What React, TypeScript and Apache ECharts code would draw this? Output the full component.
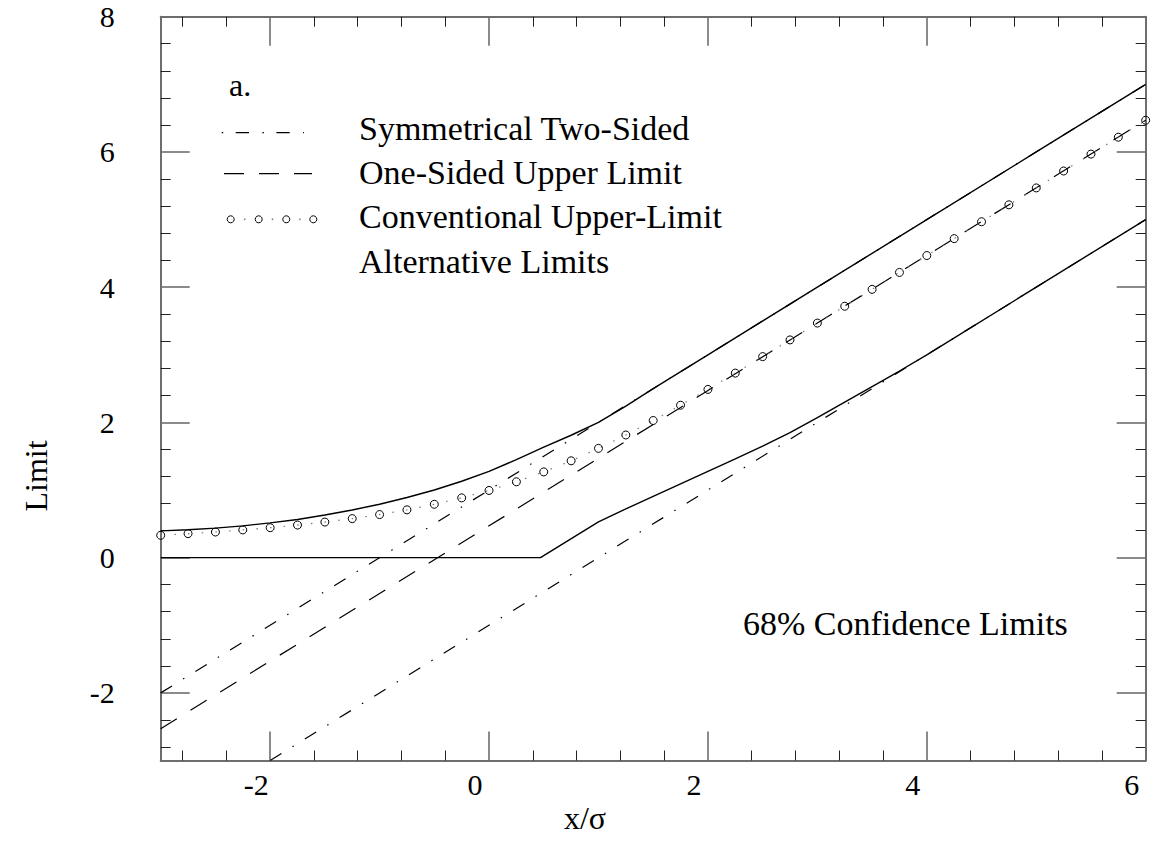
import React, { useEffect, useRef } from "react";
import * as echarts from "echarts";

// ---- axis ticks ----
const xMajorTicks = [-2, 0, 2, 4, 6];
const yMajorTicks = [-2, 0, 2, 4, 6, 8];
const xMinorTicks = [-2.8, -2.4, -1.6, -1.2, -0.8, -0.4, 0.4, 0.8, 1.2, 1.6, 2.4, 2.8, 3.2, 3.6, 4.4, 4.8, 5.2, 5.6];
const yMinorTicks = [-2.8, -2.4, -1.6, -1.2, -0.8, -0.4, 0.4, 0.8, 1.2, 1.6, 2.4, 2.8, 3.2, 3.6, 4.4, 4.8, 5.2, 5.6, 6.4, 6.8, 7.2, 7.6];

// ---- series data ----
const conventionalX = [-3, -2.75, -2.5, -2.25, -2, -1.75, -1.5, -1.25, -1, -0.75, -0.5, -0.25, 0, 0.25, 0.5, 0.75, 1, 1.25, 1.5, 1.75, 2, 2.25, 2.5, 2.75, 3, 3.25, 3.5, 3.75, 4, 4.25, 4.5, 4.75, 5, 5.25, 5.5, 5.75, 6];
const conventionalY = [0.33, 0.355, 0.379, 0.41, 0.443, 0.482, 0.526, 0.577, 0.637, 0.707, 0.789, 0.884, 0.994, 1.122, 1.268, 1.432, 1.616, 1.814, 2.028, 2.254, 2.488, 2.729, 2.973, 3.22, 3.469, 3.718, 3.968, 4.218, 4.468, 4.718, 4.968, 5.218, 5.468, 5.718, 5.968, 6.218, 6.468];

const altUpperX = [-3, -2.75, -2.5, -2.25, -2, -1.75, -1.5, -1.25, -1, -0.75, -0.5, -0.25, 0, 0.25, 0.5, 0.75, 1, 1.25, 1.5, 2, 3, 4, 5, 6];
const altUpperY = [0.396, 0.413, 0.437, 0.47, 0.515, 0.565, 0.63, 0.705, 0.79, 0.89, 1.0, 1.13, 1.275, 1.45, 1.636, 1.81, 2.0, 2.24, 2.5, 3, 4, 5, 6, 7];

const altLowerX = [-3, 0.47, 1, 1.25, 1.5, 1.75, 2, 2.25, 2.5, 2.75, 3, 3.25, 3.5, 3.75, 4, 5, 6];
const altLowerY = [0, 0, 0.53, 0.72, 0.905, 1.09, 1.275, 1.46, 1.65, 1.85, 2.07, 2.3, 2.53, 2.76, 3, 4, 5];

const symUpperX = [-3, 6];
const symUpperY = [-2, 7];
const symLowerX = [-2, 6];
const symLowerY = [-3, 5];
const oneSidedX = [-3, 6];
const oneSidedY = [-2.53, 6.47];

const legendLabels = ["Symmetrical Two-Sided", "One-Sided Upper Limit", "Conventional Upper-Limit", "Alternative Limits"];

const FONT = "'Liberation Serif', 'DejaVu Serif', serif";

const pairs = (xs: number[], ys: number[]) => xs.map((x, i) => [x, ys[i]]);

export default function App() {
  const ref = useRef<HTMLDivElement>(null);

  useEffect(() => {
    if (!ref.current) return;
    const chart = echarts.init(ref.current, undefined, { renderer: "svg" });

    const axisColor = "#6e6e6e";
    const mkX = (pos: "bottom" | "top", major: boolean, labels: boolean) => ({
      type: "value",
      position: pos,
      min: -3,
      max: 6,
      axisLine: { show: major, onZero: false, lineStyle: { color: axisColor, width: 2 } },
      splitLine: { show: false },
      axisTick: {
        show: true,
        inside: true,
        length: major ? 29 : 10,
        customValues: major ? xMajorTicks : xMinorTicks,
        lineStyle: { color: major ? axisColor : "#222", width: major ? 1.6 : 1 },
      },
      axisLabel: {
        show: labels,
        customValues: xMajorTicks,
        margin: 9,
        fontFamily: FONT,
        fontSize: 30,
        color: "#000",
        padding: [0, 28, 0, 0],
      },
    });
    const mkY = (pos: "left" | "right", major: boolean, labels: boolean) => ({
      type: "value",
      position: pos,
      min: -3,
      max: 8,
      axisLine: { show: major, onZero: false, lineStyle: { color: axisColor, width: 2 } },
      splitLine: { show: false },
      axisTick: {
        show: true,
        inside: true,
        length: major ? 29 : 10,
        customValues: major ? yMajorTicks : yMinorTicks,
        lineStyle: { color: major ? axisColor : "#222", width: major ? 1.6 : 1 },
      },
      axisLabel: {
        show: labels,
        customValues: yMajorTicks,
        margin: 46,
        fontFamily: FONT,
        fontSize: 30,
        color: "#000",
      },
    });

    const legendY = [128.3, 172.5, 216.7, 261];

    const option: any = {
      animation: false,
      backgroundColor: "#fff",
      grid: { left: 160.7, top: 16.7, width: 985, height: 743.8, containLabel: false },
      xAxis: [mkX("bottom", true, true), mkX("bottom", false, false), mkX("top", true, false), mkX("top", false, false)],
      yAxis: [mkY("left", true, true), mkY("left", false, false), mkY("right", true, false), mkY("right", false, false)],
      series: [
        {
          name: "Symmetrical Two-Sided (upper)",
          type: "line",
          data: pairs(symUpperX, symUpperY),
          symbol: "none",
          lineStyle: { color: "#000", width: 1.2, type: [13.3, 13, 1.5, 13] },
          z: 2,
        },
        {
          name: "Symmetrical Two-Sided (lower)",
          type: "line",
          data: pairs(symLowerX, symLowerY),
          symbol: "none",
          lineStyle: { color: "#000", width: 1.2, type: [13.3, 13, 1.5, 13] },
          z: 2,
        },
        {
          name: "One-Sided Upper Limit",
          type: "line",
          data: pairs(oneSidedX, oneSidedY),
          symbol: "none",
          lineStyle: { color: "#000", width: 1.2, type: [19, 16] },
          z: 2,
        },
        {
          name: "Alternative Limits (upper)",
          type: "line",
          data: pairs(altUpperX, altUpperY),
          symbol: "none",
          smooth: false,
          lineStyle: { color: "#000", width: 1.4 },
          z: 3,
        },
        {
          name: "Alternative Limits (lower)",
          type: "line",
          data: pairs(altLowerX, altLowerY),
          symbol: "none",
          lineStyle: { color: "#000", width: 1.4 },
          z: 3,
        },
        {
          name: "Conventional Upper-Limit",
          type: "line",
          data: pairs(conventionalX, conventionalY),
          symbol: "circle",
          symbolSize: 8,
          showAllSymbol: true,
          itemStyle: { color: "rgba(0,0,0,0)", borderColor: "#000", borderWidth: 1 },
          lineStyle: { color: "#777", width: 1.2, type: [1.5, 12.2] },
          z: 4,
        },
      ],
      graphic: [
        { type: "text", x: 229, y: 85, style: { text: "a.", fontFamily: FONT, fontSize: 32, fill: "#000", verticalAlign: "middle" } },
        {
          type: "line",
          shape: { x1: 221.7, y1: 132.7, x2: 304, y2: 132.7 },
          style: { stroke: "#000", lineWidth: 1.2, lineDash: [1.5, 12.5, 13.3, 13.4] },
        },
        {
          type: "line",
          shape: { x1: 224, y1: 173.7, x2: 312, y2: 173.7 },
          style: { stroke: "#000", lineWidth: 1.3, lineDash: [20, 15] },
        },
        ...[230.7, 258.7, 286.3, 313.3].map((cx) => ({
          type: "circle",
          shape: { cx, cy: 219.3, r: 3.5 },
          style: { stroke: "#000", fill: "none", lineWidth: 1 },
        })),
        ...[244.7, 272.5, 299.8].map((cx) => ({
          type: "circle",
          shape: { cx, cy: 219.3, r: 0.9 },
          style: { fill: "#888", stroke: "none" },
        })),
        ...legendLabels.map((t, i) => ({
          type: "text",
          x: 359,
          y: legendY[i],
          style: { text: t, fontFamily: FONT, fontSize: 34, fill: "#000", verticalAlign: "middle" },
        })),
        { type: "text", x: 743, y: 623.5, style: { text: "68% Confidence Limits", fontFamily: FONT, fontSize: 34, fill: "#000", verticalAlign: "middle" } },
        { type: "text", x: 585, y: 818, style: { text: "x/σ", fontFamily: FONT, fontSize: 32, fill: "#000", align: "center", verticalAlign: "middle" } },
        { type: "text", x: 36, y: 476, rotation: Math.PI / 2, style: { text: "Limit", fontFamily: FONT, fontSize: 32, fill: "#000", align: "center", verticalAlign: "middle" } },
      ],
    };

    chart.setOption(option);
    return () => chart.dispose();
  }, []);

  return <div ref={ref} style={{ position: "fixed", left: 0, top: 0, width: 1151, height: 841 }} />;
}
